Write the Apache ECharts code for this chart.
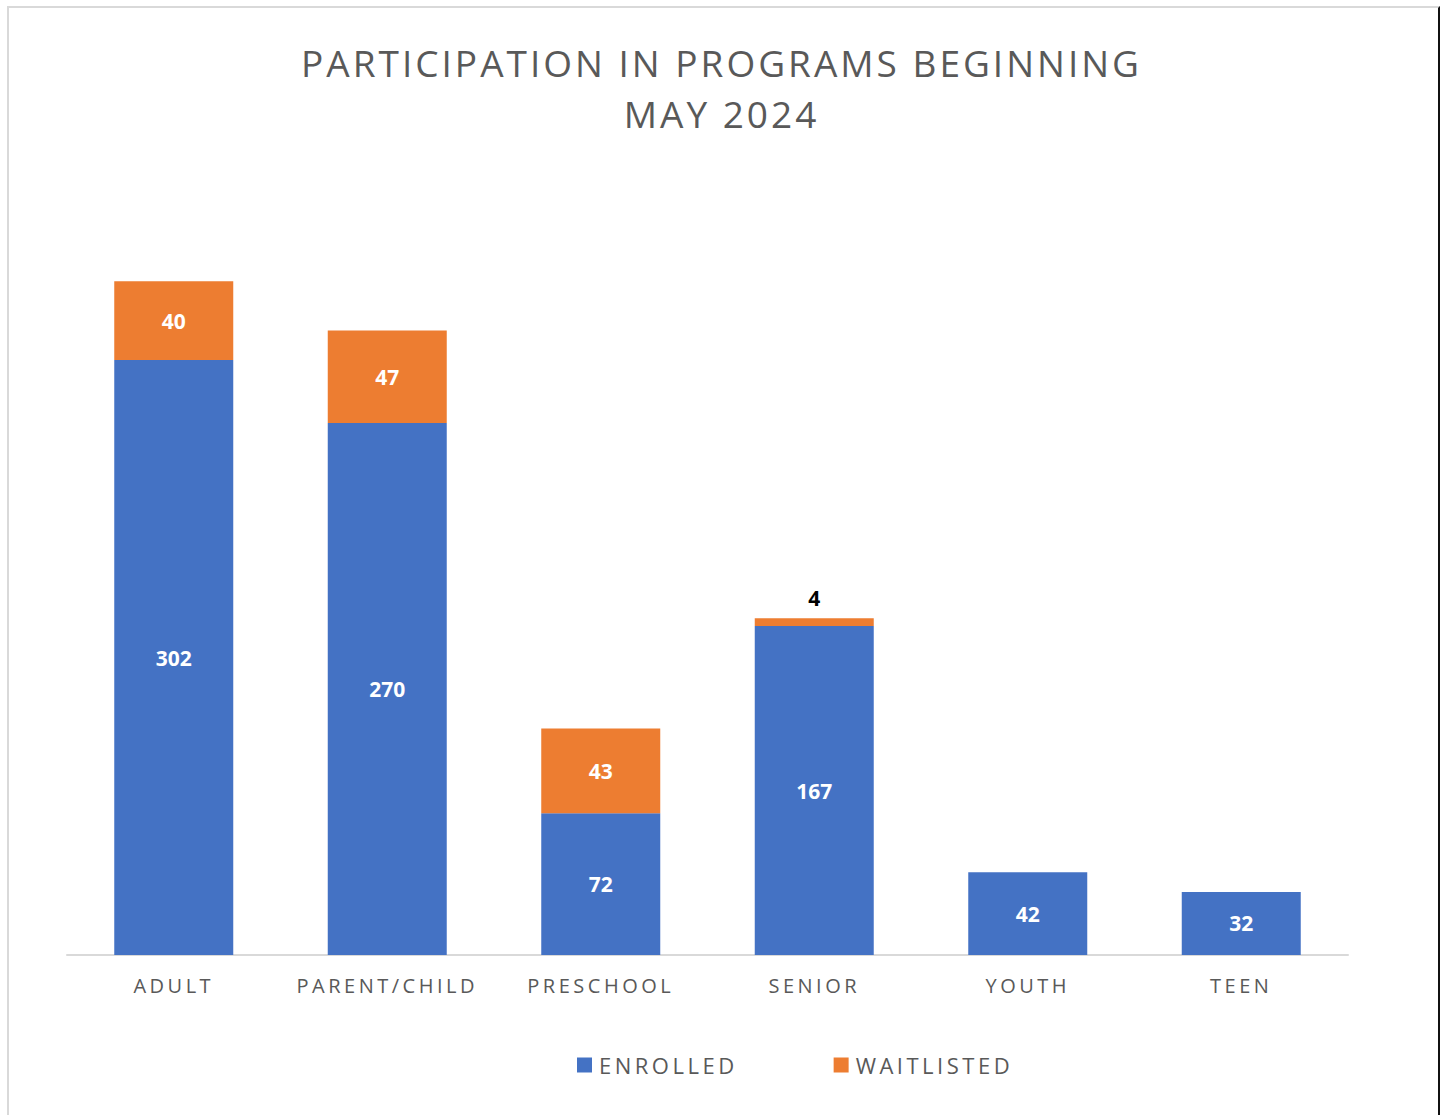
<!DOCTYPE html>
<html>
<head>
<meta charset="utf-8">
<script src="https://cdn.jsdelivr.net/npm/echarts@6/dist/echarts.min.js"></script>
<style>
    body { margin: 0; background: #fff; }
    #frame { position: absolute; left: 7px; top: 6px; width: 1429px; height: 1115px;
             border-left: 2px solid #d9d9d9; border-top: 2px solid #d9d9d9; border-right: 2px solid #111;
             pointer-events: none; }
    /* wide tracking like the original, but not on the bold value labels */
    #main svg text { letter-spacing: 3.5px; }
    #main svg text[style*="37px"] { letter-spacing: 3px; }
    #main svg text[style*="bold"] { letter-spacing: 0; }
</style>
</head>
<body>
<div id="main" style="width: 1443px;height:1115px;"></div>
<div id="frame"></div>
<script type="text/javascript">
    // data
    var categories = ['ADULT', 'PARENT/CHILD', 'PRESCHOOL', 'SENIOR', 'YOUTH', 'TEEN'];
    var enrolled = [302, 270, 72, 167, 42, 32];
    var waitlisted = [40, 47, 43, 4, null, null];

    var myChart = echarts.init(document.getElementById('main'), null, { renderer: 'svg' });

    var font = '"Open Sans", sans-serif';

    // small segments get the label above, in black
    var waitData = waitlisted.map(function (v) {
        if (v !== null && v < 10) {
            return { value: v, label: { position: 'top', color: '#000', distance: 10 } };
        }
        return v;
    });

    var option = {
        backgroundColor: '#fff',
        title: {
            text: 'PARTICIPATION IN PROGRAMS BEGINNING\nMAY 2024',
            left: 'center',
            top: 32,
            textStyle: {
                fontFamily: font,
                fontSize: 37,
                fontWeight: 'normal',
                color: '#595959',
                lineHeight: 51
            }
        },
        legend: {
            bottom: 34,
            left: 572,
            itemWidth: 15,
            itemHeight: 15,
            itemGap: 124,
            icon: 'rect',
            textStyle: {
                fontFamily: font,
                fontSize: 22,
                color: '#595959',
                padding: [0, 0, 0, 2]
            },
            data: ['ENROLLED', 'WAITLISTED']
        },
        grid: {
            left: 67,
            right: 95,
            top: 167,
            bottom: 160
        },
        xAxis: {
            type: 'category',
            data: categories,
            axisLine: { lineStyle: { color: '#d9d9d9', width: 2 } },
            axisTick: { show: false },
            axisLabel: {
                fontFamily: font,
                fontSize: 20,
                color: '#595959',
                margin: 20
            }
        },
        yAxis: {
            type: 'value',
            min: 0,
            max: 400,
            show: false,
            splitLine: { show: false }
        },
        series: [
            {
                name: 'ENROLLED',
                type: 'bar',
                stack: 'total',
                barWidth: 119,
                itemStyle: { color: '#4472C4' },
                label: {
                    show: true,
                    position: 'inside',
                    color: '#fff',
                    fontFamily: font,
                    fontWeight: 'bold',
                    fontSize: 21
                },
                data: enrolled
            },
            {
                name: 'WAITLISTED',
                type: 'bar',
                stack: 'total',
                barWidth: 119,
                itemStyle: { color: '#ED7D31' },
                label: {
                    show: true,
                    position: 'inside',
                    color: '#fff',
                    fontFamily: font,
                    fontWeight: 'bold',
                    fontSize: 21
                },
                data: waitData
            }
        ]
    };
    myChart.setOption(option);
</script>
</body>
</html>
